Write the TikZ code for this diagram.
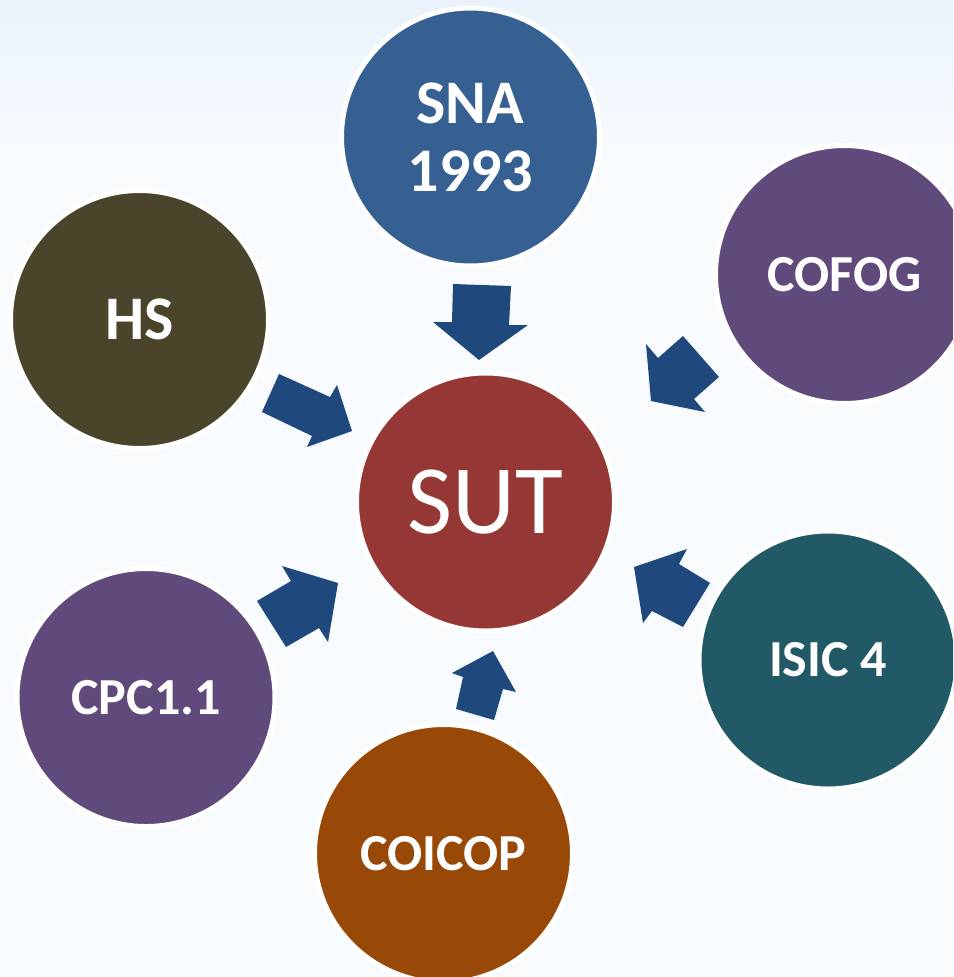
\documentclass[tikz,border=0pt]{standalone}
\usepackage{fontspec}
\setmainfont{Carlito}
\definecolor{snac}{HTML}{376092}
\definecolor{hsc}{HTML}{4A452A}
\definecolor{purplec}{HTML}{604A7B}
\definecolor{sutc}{HTML}{953735}
\definecolor{isicc}{HTML}{215967}
\definecolor{coicopc}{HTML}{984807}
\definecolor{arrowc}{HTML}{1F497D}
\definecolor{bgtop}{HTML}{EAF3FB}
\definecolor{bgc}{HTML}{F8FBFE}
\begin{document}
\begin{tikzpicture}[x=1pt,y=-1pt,
  ball/.style={circle, draw=white, line width=5pt, minimum size=258pt, inner sep=0pt,
    text=white, align=center, font=\bfseries\fontsize{52}{62}\selectfont},
  bigtext/.style={font=\bfseries\fontsize{62}{72}\selectfont},
  blockarrow/.style={fill=arrowc}]
\useasboundingbox (0,0) rectangle (953,977);
\clip (0,0) rectangle (953,977);
\fill[bgc] (0,0) rectangle (953,977);
\shade[top color=bgtop, bottom color=bgc] (0,0) rectangle (953,160);

\node[ball, bigtext, fill=snac] (sna) at (470.5,137) {SNA\\[-4pt]1993};
\node[ball, fill=purplec] (cofog) at (844.5,274.5) {COFOG};
\node[ball, bigtext, fill=hsc] (hs) at (139.5,319.5) {HS};
\node[ball, fill=sutc, font=\mdseries\fontsize{98}{110}\selectfont] (sut) at (485.5,502) {SUT};
\node[ball, fill=isicc] (isic) at (828,660) {ISIC 4};
\node[ball, fill=purplec] (cpc) at (146,697.5) {CPC1.1};
\node[ball, fill=coicopc] (coicop) at (443.5,853.5) {COICOP};

% block arrows pointing at SUT
\fill[blockarrow] (453,284) -- (511,286) -- (509,325) -- (528,325) -- (479,360)
  -- (433,322) -- (452,322) -- cycle;
\fill[blockarrow] (279,374) -- (330,397) -- (337,385) -- (352,431) -- (307,447)
  -- (312,436) -- (262,412) -- cycle;
\fill[blockarrow] (683,336) -- (719,377) -- (694,399) -- (705,412) -- (651,401)
  -- (646,344) -- (658,358) -- cycle;
\fill[blockarrow] (710,583) -- (683,627) -- (652,611) -- (643,623) -- (634,567)
  -- (687,549) -- (679,564) -- cycle;
\fill[blockarrow] (257,601) -- (291,581) -- (282,566) -- (338,583) -- (328,642)
  -- (319,628) -- (286,647) -- cycle;
\fill[blockarrow] (456,709) -- (463,677) -- (452,673) -- (493,651) -- (516,692)
  -- (503,689) -- (494,720) -- cycle;
\end{tikzpicture}
\end{document}
